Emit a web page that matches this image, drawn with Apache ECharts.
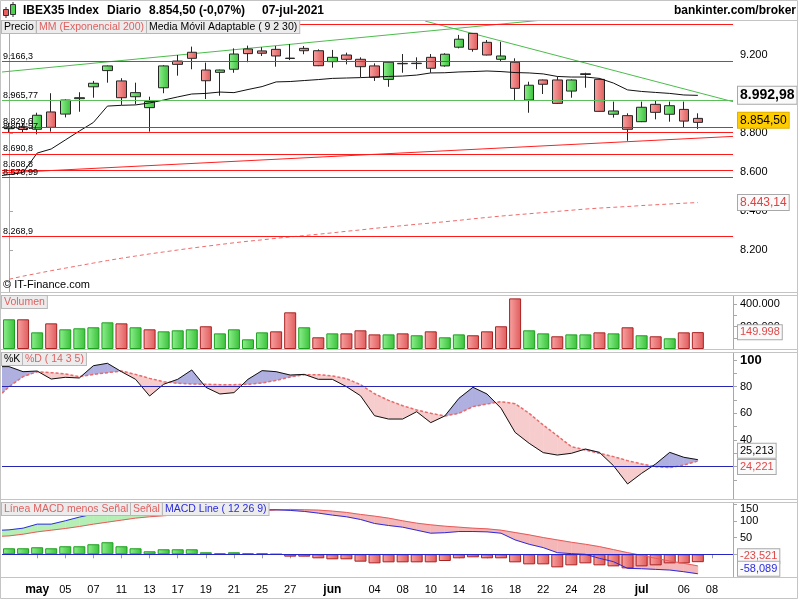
<!DOCTYPE html>
<html><head><meta charset="utf-8">
<script src="https://cdn.jsdelivr.net/npm/echarts@6/dist/echarts.min.js"></script>
<style>html,body{margin:0;padding:0;background:#fff}#c{width:800px;height:600px}</style>
</head><body><div id="c"></div>
<script>
// ---------------- DATA ----------------
// first slot (28-abr) is the day just left of the visible window: only its line values show at the left edge
const days = ['28-abr','29-abr','30-abr','03-may','04-may','05-may','06-may','07-may','10-may','11-may','12-may','13-may','14-may','17-may','18-may','19-may','20-may','21-may','24-may','25-may','26-may','27-may','28-may','31-may','01-jun','02-jun','03-jun','04-jun','07-jun','08-jun','09-jun','10-jun','11-jun','14-jun','15-jun','16-jun','17-jun','18-jun','21-jun','22-jun','23-jun','24-jun','25-jun','28-jun','29-jun','30-jun','01-jul','02-jul','05-jul','06-jul','07-jul','08-jul','09-jul'];
const xTickLabels = ['','','','may','','05','','07','','11','','13','','17','','19','','21','','25','','27','','','jun','','','04','','08','','10','','14','','16','','18','','22','','24','','28','','','jul','','','06','','08',''];

const open  = [null,8822,8832,8819,8908,8897,8976,9037,9120,9067,8986,8930,9032,9169,9214,9123,9111,9127,9231,9221,9229,9182,9234,9222,9166,9200,9178,9144,9075,9157,9156,9188,9144,9240,9311,9265,9178,9163,8969,9072,9072,9015,9100,9075,8896,8889,8858,8947,8896,8921,8875];
const close = [null,8830,8818,8891,8829,8969,8981,9055,9144,8981,9007,8961,9144,9152,9183,9068,9123,9205,9207,9209,9195,9184,9222,9145,9188,9178,9140,9086,9163,9155,9158,9132,9204,9281,9229,9200,9195,9029,9045,9050,8952,9072,9104,8911,8913,8819,8932,8906,8940,8861,8854.5];
const low   = [null,8800,8805,8793,8807,8880,8909,8981,9058,8944,8947,8807,9004,9094,9127,8974,8991,9109,9163,9195,9140,9174,9204,9143,9135,9152,9086,9067,9037,9109,9127,9109,9140,9234,9217,9198,9166,8969,8904,9000,8950,8981,9032,8910,8879,8760,8856,8870,8858,8829,8820];
const high  = [null,8852,8848,8904,9004,8972,9009,9067,9146,9081,9058,8986,9148,9200,9243,9161,9125,9234,9248,9240,9246,9256,9246,9229,9226,9212,9188,9157,9165,9205,9188,9205,9209,9303,9313,9277,9268,9183,9063,9074,9089,9075,9109,9080,8961,8901,8961,8969,8961,8961,8901];

const ema200 = [null,8050,8066,8080,8094,8107,8120,8133,8146,8158,8169,8180,8190,8200,8210,8219,8228,8237,8245,8252,8260,8267,8274,8281,8288,8296,8303,8311,8318,8325,8332,8338,8345,8352,8360,8367,8374,8380,8386,8392,8398,8404,8410,8415,8419,8423,8428,8432,8436,8440,8443.14];
const ama = [8577,8587,8597,8697,8718,8764,8810,8854,8938,8942,8944,8954,8969,8985,9000,9003,9010,9007,9023,9038,9062,9064,9069,9074,9080,9082,9084,9087,9090,9092,9097,9108,9109,9113,9115,9118,9115,9110,9108,9103,9090,9087,9087,9080,9056,9021,9013,9008,9003,8995,8992.98];

const redLevels = [9357, 8829.6, 8804.57, 8690.8, 8608.8, 8570.99, 8268.9];
const darkGreenLevels = [9166.3];
const lightGreenLevels = [8965.77];
// trend lines: [position counted in trading days from 29-abr (=0), price]
const trendGreenUp = [[-0.5, 9112.8], [51.5, 9473]];
const trendGreenDown = [[29.6, 9374], [51.5, 8960.5]];
const trendRedUp = [[-0.5, 8595], [51.5, 8782.6]];

const volume = [null,264000,264000,148000,228000,175000,184000,193000,237000,228000,193000,175000,157000,166000,175000,202000,139000,175000,86000,148000,157000,326000,193000,104000,139000,139000,166000,130000,130000,139000,122000,157000,104000,130000,122000,157000,202000,450000,166000,139000,113000,130000,130000,148000,139000,193000,122000,113000,95000,148000,149998];

const stochK = [95,95,91.2,91.7,85.7,87,86.5,95.7,97.5,91.2,85.5,73,81.8,85.5,92.5,79.5,74.5,75.5,85.5,92,91.2,88.7,89.2,85.5,85.5,80,73.2,58.2,55.7,55.7,61.2,53,58,71.2,79.5,74.5,63.8,45.7,37.5,30.5,28.7,30,33.2,30.7,20.7,7,15,22,30.7,27,25.213];
const stochD = [70,80,87.5,91.2,90.5,89.5,87.5,89.2,90.5,91.7,89.2,86.2,83.7,82.5,82,81.8,81.5,81.5,81.8,82.7,84.7,87.2,89,89,88,86,81.5,74.7,69.7,65.7,62.5,60,58,60,65,67,68.7,67.2,60,51.2,43.2,35,32.5,30,27.5,24.5,22,20,19.2,21.2,24.221];
const stochLevels = [80, 20];

const macdLine = [71,73,78,90,90,100,111,120,128,130,129,124,128,132,135,131,130,132,132,133,133,131,128,123,117,112,104,92,86,81,72,63,64.5,68,68,67,63,43,30,20,5,2,0,-12,-22,-42,-43,-45,-47,-52,-58.089];
const macdSignal = [53,55,60,67,72,77,83,90,96,102,108,112,115,118,121,124,126,127,129,130,132,134,133,132,129,125,119,114,108,100,93,88,84,81,78,76,72,65,58,50,43,36,30,23,14,5,-3,-12,-20,-27,-34.568];
const macdHist = [null,18,18,21,18,24,24,30,36,24,18,9,15,15,15,6,3,6,3,3,0.5,-7,-7,-12,-15,-15,-22,-27,-24,-24,-24,-24,-20,-12,-9,-12,-12,-24,-30,-30,-39,-33,-27,-33,-36,-42,-36,-33,-27,-27,-23.521];

const priceTicks = [8200, 8400, 8600, 8800, 9000, 9200];
const volTicks = [200000, 400000];
const volMinorTicks = [100000, 200000, 300000, 400000];
const stochTicks = [20, 40, 60, 80, 100];
const stochMinorTicks = [10,20,30,40,50,60,70,80,90,100];
const macdTicks = [0, 50, 100, 150];

// ---------------- HELPERS ----------------
function fmtES(v, dec) {
  const s = dec == null ? String(v) : Number(v).toFixed(dec);
  let [ip, fp] = s.split('.');
  let neg = ip[0] === '-';
  if (neg) ip = ip.slice(1);
  ip = ip.replace(/\B(?=(\d{3})+(?!\d))/g, '.');
  return (neg ? '-' : '') + ip + (fp ? ',' + fp : '');
}
const FONT = '"Liberation Sans", Arial, sans-serif';
const last = a => a[a.length - 1];
const nz = v => (v == null ? '-' : v);

// ---------------- LAYOUT (pixel scale) ----------------
const plotLeft = 2, plotRight = 733;
const slotW = (plotRight - plotLeft) / (days.length - 1);   // one hidden slot to the left
const gridLeft = plotLeft - slotW, gridRight = 800 - plotRight;
const gPrice = { top: 21, height: 271 }, gVol = { top: 296, height: 53 }, gSto = { top: 353, height: 146 }, gMacd = { top: 503, height: 74 };
const pxPerPt = 0.195; // price
const priceMax = 9200 + (55 - gPrice.top) / pxPerPt, priceMin = priceMax - gPrice.height / pxPerPt;
const volMax = gVol.height / 0.1125 * 1000;
const stoPx = 1.3333, stoZero = 493.3;
const stoMax = (stoZero - gSto.top) / stoPx, stoMin = stoMax - gSto.height / stoPx;
const mPx = 0.335, mZero = 554.3;
const mMax = (mZero - gMacd.top) / mPx, mMin = mMax - gMacd.height / mPx;

const gGreen = new echarts.graphic.LinearGradient(0,0,1,0,[{offset:0,color:'#90f090'},{offset:1,color:'#38c038'}]);
const gRed = new echarts.graphic.LinearGradient(0,0,1,0,[{offset:0,color:'#f8a4a4'},{offset:1,color:'#e05a5a'}]);

function bandSeries(xi, yi, a, b, colA, colB) {
  const data = [];
  for (let i = 0; i < a.length - 1; i++) data.push([i, a[i], b[i], a[i+1], b[i+1]]);
  return {
    type: 'custom', xAxisIndex: xi, yAxisIndex: yi, z: 1, silent: true,
    data: data, encode: { x: 0, y: [1,2,3,4] },
    renderItem: function (params, api) {
      const i = api.value(0);
      const a0 = api.value(1), b0 = api.value(2), a1 = api.value(3), b1 = api.value(4);
      const pa0 = api.coord([i, a0]), pb0 = api.coord([i, b0]);
      const pa1 = api.coord([i + 1, a1]), pb1 = api.coord([i + 1, b1]);
      const d0 = a0 - b0, d1 = a1 - b1;
      const ch = [];
      const poly = (pts, col) => ch.push({ type: 'polygon', shape: { points: pts }, style: { fill: col, stroke: col, lineWidth: 0.5 } });
      if (d0 * d1 >= 0) {
        poly([pa0, pa1, pb1, pb0], (d0 + d1) >= 0 ? colA : colB);
      } else {
        const t = d0 / (d0 - d1);
        const pc = [pa0[0] + t * (pa1[0] - pa0[0]), pa0[1] + t * (pa1[1] - pa0[1])];
        poly([pa0, pc, pb0], d0 > 0 ? colA : colB);
        poly([pc, pa1, pb1], d1 > 0 ? colA : colB);
      }
      return { type: 'group', children: ch };
    }
  };
}
function valueBox(v, text, color, bg, border, size, bold, offY) {
  return { yAxis: v, lineStyle: { width: 1, color: 'rgba(0,0,0,0)', opacity: 1 },
    label: { show: true, position: 'end', distance: 5, formatter: text, color: color, fontSize: size, opacity: 1,
      fontWeight: bold ? 'bold' : 'normal', fontFamily: FONT, backgroundColor: bg, borderColor: border,
      borderWidth: 1, padding: [2, 2, 1, 2], offset: [0, offY || 0] } };
}
function levelItem(v, color) {
  return { yAxis: v, lineStyle: { color: color, width: 1, type: 'solid', opacity: 1 },
    label: { show: v < 9300, position: 'insideStartTop', distance: [1, 1], offset: [slotW, 0], formatter: fmtES(v), color: '#000', fontSize: 9, fontFamily: FONT } };
}

function yAxisCfg(gi, min, max, labelVals, tickVals, fmt) {
  return { type: 'value', gridIndex: gi, position: 'right', min: min, max: max, scale: true,
    splitLine: { show: false },
    axisLine: { show: true, lineStyle: { color: '#a8a8a8' } },
    axisTick: { show: true, length: 4, lineStyle: { color: '#a8a8a8' }, customValues: tickVals },
    axisLabel: { customValues: labelVals, formatter: fmt, color: '#000', fontSize: 11, margin: 7, fontFamily: FONT } };
}

const catBase = { type: 'category', data: days, boundaryGap: true, show: false };

const levelData = [].concat(
  redLevels.map(v => levelItem(v, '#ff1a1a')),
  darkGreenLevels.map(v => levelItem(v, '#1f8f1f')),
  lightGreenLevels.map(v => levelItem(v, '#5cbf5c'))
);
const ML = (data) => ({ symbol: 'none', silent: true, animation: false, data: data });
const gridCfg = g => ({ left: gridLeft, right: gridRight, top: g.top, height: g.height, outerBoundsMode: 'none', containLabel: false });

const option = {
  animation: false,
  textStyle: { fontFamily: FONT },
  grid: [gridCfg(gPrice), gridCfg(gVol), gridCfg(gSto), gridCfg(gMacd)],
  xAxis: [
    Object.assign({}, catBase, { gridIndex: 0 }),
    { type: 'value', gridIndex: 0, min: -1.5, max: days.length - 1.5, show: false },
    Object.assign({}, catBase, { gridIndex: 1 }),
    Object.assign({}, catBase, { gridIndex: 2 }),
    Object.assign({}, catBase, { gridIndex: 3, show: true,
      axisLine: { show: false },
      axisTick: { show: true, alignWithLabel: true, length: 4, lineStyle: { color: '#999' }, interval: (i) => xTickLabels[i] !== '' },
      axisLabel: { interval: 0, margin: 7, color: '#000',
        formatter: (v, i) => { const t = xTickLabels[i]; if (!t) return ''; return isNaN(Number(t)) ? '{b|' + t + '}' : '{n|' + t + '}'; },
        rich: { b: { fontWeight: 'bold', fontSize: 12, fontFamily: FONT, color: '#000' }, n: { fontSize: 11, fontFamily: FONT, color: '#000' } } } })
  ],
  yAxis: [
    yAxisCfg(0, priceMin, priceMax, priceTicks, priceTicks, v => fmtES(v)),
    yAxisCfg(1, 0, volMax, volTicks, volMinorTicks, v => fmtES(v)),
    yAxisCfg(2, stoMin, stoMax, stochTicks, stochMinorTicks, v => v === 100 ? '{b|100}' : String(v)),
    yAxisCfg(3, mMin, mMax, macdTicks, macdTicks, v => v === 150 ? '{t|150}' : String(v))
  ],
  series: [
    // ----- price panel -----
    { type: 'line', name: 'MM (Exponencial 200)', xAxisIndex: 0, yAxisIndex: 0, data: ema200.map(nz), symbol: 'none', z: 2, clip: false,
      lineStyle: { color: '#f06a6a', width: 1, type: [4, 3] },
      markLine: ML(levelData.concat([valueBox(last(ema200), fmtES(last(ema200), 2), '#e04040', '#fafafa', '#a8a8a8', 12, false, 0)])) },
    { type: 'line', xAxisIndex: 1, yAxisIndex: 0, data: trendGreenUp, symbol: 'none', z: 2, lineStyle: { color: '#4cbc4c', width: 1 } },
    { type: 'line', xAxisIndex: 1, yAxisIndex: 0, data: trendGreenDown, symbol: 'none', z: 2, lineStyle: { color: '#4cbc4c', width: 1 } },
    { type: 'line', xAxisIndex: 1, yAxisIndex: 0, data: trendRedUp, symbol: 'none', z: 2, lineStyle: { color: '#ff2020', width: 1 } },
    { type: 'candlestick', name: 'Precio', xAxisIndex: 0, yAxisIndex: 0, z: 3, barWidth: 10, clip: false,
      data: open.map((o, i) => o == null ? '-' : [o, close[i], low[i], high[i]]),
      itemStyle: { color: gGreen, color0: gRed, borderColor: '#262626', borderColor0: '#262626', borderWidth: 1 },
      markLine: ML([valueBox(last(close), fmtES(last(close), 2), '#000', '#ffcc00', '#e0b000', 12, false, -2)]) },
    { type: 'line', name: 'Media Móvil Adaptable', xAxisIndex: 0, yAxisIndex: 0, data: ama, symbol: 'none', z: 4,
      lineStyle: { color: '#111', width: 1 },
      markLine: ML([valueBox(last(ama), fmtES(last(ama)), '#000', '#fafafa', '#a8a8a8', 14, true, 0)]) },
    // ----- volume -----
    { type: 'bar', name: 'Volumen', xAxisIndex: 2, yAxisIndex: 1, barWidth: 12, clip: false,
      data: volume.map((v, i) => v == null ? '-' : ({ value: v, itemStyle: (close[i - 1] == null || close[i] >= close[i - 1]) ?
        { color: gGreen, borderColor: '#1e9e1e', borderWidth: 1 } : { color: gRed, borderColor: '#a82222', borderWidth: 1 } })),
      markLine: ML([valueBox(last(volume), fmtES(last(volume)), '#e04848', '#fafafa', '#a8a8a8', 11, false, 0)]) },
    // ----- stochastic -----
    bandSeries(3, 2, stochK, stochD, '#afafe0', '#f6cccc'),
    { type: 'line', name: '%K', xAxisIndex: 3, yAxisIndex: 2, data: stochK, symbol: 'none', z: 4, lineStyle: { color: '#111', width: 1 },
      markLine: ML(stochLevels.map(v => ({ yAxis: v, lineStyle: { color: '#2626b4', width: 1, type: 'solid' }, label: { show: false } }))
        .concat([valueBox(last(stochK), fmtES(last(stochK), 3), '#000', '#fafafa', '#a8a8a8', 11, false, -9)])) },
    { type: 'line', name: '%D', xAxisIndex: 3, yAxisIndex: 2, data: stochD, symbol: 'none', z: 3, lineStyle: { color: '#e86a6a', width: 1.5, type: [3, 2] },
      markLine: ML([valueBox(last(stochD), fmtES(last(stochD), 3), '#e04848', '#fafafa', '#a8a8a8', 11, false, 6)]) },
    // ----- MACD -----
    bandSeries(4, 3, macdLine, macdSignal, '#b6efb6', '#f4b6b6'),
    { type: 'bar', name: 'Línea MACD menos Señal', xAxisIndex: 4, yAxisIndex: 3, barWidth: 12, z: 2, clip: false,
      data: macdHist.map(v => v == null ? '-' : ({ value: v, itemStyle: v >= 0 ? { color: gGreen, borderColor: '#1e9e1e', borderWidth: 1 } : { color: gRed, borderColor: '#a82222', borderWidth: 1 } })),
      markLine: ML([{ yAxis: 0, lineStyle: { color: '#2424c8', width: 1, type: 'solid' }, label: { show: false } },
        valueBox(last(macdHist), fmtES(last(macdHist), 3), '#e04848', '#fafafa', '#a8a8a8', 11, false, -6)]) },
    { type: 'line', name: 'Señal', xAxisIndex: 4, yAxisIndex: 3, data: macdSignal, symbol: 'none', z: 3, lineStyle: { color: '#e85a5a', width: 1 } },
    { type: 'line', name: 'MACD Line', xAxisIndex: 4, yAxisIndex: 3, data: macdLine, symbol: 'none', z: 4, lineStyle: { color: '#2a2ae0', width: 1 } },
    { type: 'line', xAxisIndex: 4, yAxisIndex: 3, data: [], symbol: 'none', z: 5, clip: false,
      markLine: ML([valueBox(last(macdLine), fmtES(last(macdLine), 3), '#2a2ae0', '#fafafa', '#a8a8a8', 11, false, -5)]) }
  ]
};
option.yAxis[2].axisLabel.rich = { b: { fontWeight: 'bold', fontSize: 13, fontFamily: FONT, color: '#000' } };
option.yAxis[3].axisLabel.rich = { t: { padding: [9, 0, 0, 0], fontSize: 11, fontFamily: FONT, color: '#000' } };

// ---------------- DECORATION (frames, titles, legend tags) ----------------
const mctx = document.createElement('canvas').getContext('2d');
const TAGFONT = '10.5px ' + FONT;
mctx.font = TAGFONT;
function frame(y0, y1) { return { type: 'rect', z: 50, silent: true, shape: { x: 0.5, y: y0 + 0.5, width: 797, height: y1 - y0 }, style: { fill: 'none', stroke: '#c4c4c4', lineWidth: 1 } }; }
function tagRow(x, y, items) {
  const out = [];
  items.forEach(([text, color]) => {
    out.push({ type: 'text', z: 60, silent: true, x: x, y: y,
      style: { text: text, fill: color, font: TAGFONT, backgroundColor: '#ececec', borderColor: '#b8b8b8', borderWidth: 1, padding: [1, 2, 0, 2] } });
    x += Math.round(mctx.measureText(text).width) + 5;
  });
  return out;
}
function txt(x, y, text, font, color, align) {
  return { type: 'text', z: 60, silent: true, x: x, y: y, style: { text: text, font: font, fill: color || '#000', textAlign: align || 'left', textVerticalAlign: 'middle' } };
}
option.graphic = [
  { type: 'rect', z: 48, silent: true, shape: { x: 0, y: 0, width: 2, height: 600 }, style: { fill: '#fff' } },
  { type: 'rect', z: 49, silent: true, shape: { x: 0.5, y: 0.5, width: 797, height: 598 }, style: { fill: 'none', stroke: '#c4c4c4' } },
  frame(20, 292), frame(295, 349), frame(352, 499), frame(502, 577),
  // header icon
  { type: 'line', z: 60, shape: { x1: 6, y1: 7, x2: 6, y2: 18 }, style: { stroke: '#333' } },
  { type: 'rect', z: 61, shape: { x: 3.5, y: 9.5, width: 5, height: 6 }, style: { fill: '#e86060', stroke: '#333' } },
  { type: 'line', z: 60, shape: { x1: 13, y1: 2, x2: 13, y2: 17 }, style: { stroke: '#333' } },
  { type: 'rect', z: 61, shape: { x: 10.5, y: 4.5, width: 5, height: 10 }, style: { fill: '#50d050', stroke: '#333' } },
  txt(23, 11, 'IBEX35 Index', 'bold 12px ' + FONT),
  txt(107, 11, 'Diario', 'bold 12px ' + FONT),
  txt(149, 11, '8.854,50 (-0,07%)', 'bold 12px ' + FONT),
  txt(262, 11, '07-jul-2021', 'bold 12px ' + FONT),
  txt(796, 11, 'bankinter.com/broker', 'bold 12px ' + FONT, '#000', 'right'),
  txt(3, 285, '© IT-Finance.com', '11px ' + FONT)
].concat(
  tagRow(2, 21, [['Precio', '#000'], ['MM (Exponencial 200)', '#e06060'], ['Media Móvil Adaptable ( 9 2 30)', '#000']]),
  tagRow(2, 296, [['Volumen', '#e06060']]),
  tagRow(2, 353, [['%K', '#000'], ['%D ( 14 3 5)', '#e06060']]),
  tagRow(2, 503, [['Línea MACD menos Señal', '#e06060'], ['Señal', '#e06060'], ['MACD Line ( 12 26 9)', '#2a2ae0']])
);

const chart = echarts.init(document.getElementById('c'));
chart.setOption(option);
</script>
</body></html>
